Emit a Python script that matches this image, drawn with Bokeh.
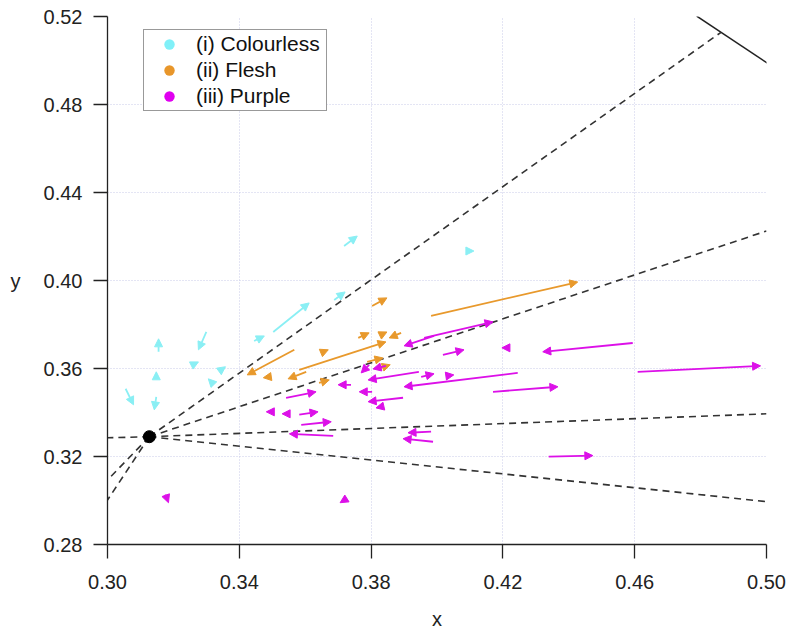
from bokeh.plotting import figure
from bokeh.models import (ColumnDataSource, Arrow, NormalHead, Legend, LegendItem,
                          FixedTicker, NumeralTickFormatter)
from bokeh.embed import file_html
from bokeh.resources import INLINE

# ---------------- data ----------------
white_x = [0.3127]
white_y = [0.3290]

# dashed lines from the white point
dash_end_x = [0.4861, 0.50, 0.50, 0.30, 0.50, 0.30, 0.30]
dash_end_y = [0.5127, 0.4225, 0.3394, 0.3285, 0.2995, 0.3093, 0.3002]

# spectral locus piece
locus_x = [0.4788, 0.5125]
locus_y = [0.5202, 0.4866]

# (i) Colourless arrows (tail -> head)
col_x0 = [0.3055, 0.3155, 0.3300, 0.3264, 0.3345, 0.3315, 0.3148, 0.3148, 0.3445, 0.3503, 0.3688, 0.3718, 0.4094]
col_y0 = [0.3508, 0.3676, 0.3766, 0.3621, 0.3594, 0.3539, 0.3567, 0.3471, 0.3725, 0.3766, 0.3911, 0.4157, 0.4134]
col_x1 = [0.3079, 0.3155, 0.3276, 0.3276, 0.3358, 0.3306, 0.3148, 0.3142, 0.3476, 0.3612, 0.3721, 0.3758, 0.4112]
col_y1 = [0.3435, 0.3735, 0.3685, 0.3630, 0.3608, 0.3553, 0.3585, 0.3412, 0.3748, 0.3898, 0.3948, 0.4202, 0.4134]

# (ii) Flesh arrows
fl_x0 = [0.3567, 0.3491, 0.3603, 0.3582, 0.3891, 0.3648, 0.3761, 0.3830, 0.3803, 0.3788, 0.3830, 0.3642, 0.3982]
fl_y0 = [0.3685, 0.3562, 0.3585, 0.3594, 0.3762, 0.3671, 0.3739, 0.3753, 0.3884, 0.3630, 0.3603, 0.3535, 0.3839]
fl_x1 = [0.3424, 0.3473, 0.3548, 0.3845, 0.3855, 0.3670, 0.3794, 0.3848, 0.3848, 0.3836, 0.3858, 0.3673, 0.4427]
fl_y1 = [0.3571, 0.3558, 0.3553, 0.3721, 0.3739, 0.3685, 0.3762, 0.3766, 0.3921, 0.3648, 0.3617, 0.3548, 0.3993]

# (iii) Purple arrows
pu_x0 = [0.3961, 0.3991, 0.4018, 0.4218, 0.4594, 0.4609, 0.4170, 0.4339, 0.4245, 0.3945,
         0.3952, 0.4033, 0.3739, 0.3803, 0.3897, 0.3830, 0.3794, 0.3845, 0.3982, 0.3988,
         0.3542, 0.3497, 0.3545, 0.3582, 0.3588, 0.3685, 0.3176, 0.3721]
pu_y0 = [0.3739, 0.3748, 0.3662, 0.3694, 0.3716, 0.3585, 0.3494, 0.3199, 0.3580, 0.3585,
         0.3562, 0.3567, 0.3526, 0.3494, 0.3467, 0.3426, 0.3617, 0.3612, 0.3313, 0.3267,
         0.3467, 0.3403, 0.3394, 0.3390, 0.3344, 0.3294, 0.3027, 0.3004]
pu_x1 = [0.4170, 0.3900, 0.4082, 0.4197, 0.4321, 0.4982, 0.4367, 0.4473, 0.3900, 0.3791,
         0.3991, 0.4051, 0.3700, 0.3764, 0.3791, 0.3815, 0.3770, 0.3806, 0.3912, 0.3897,
         0.3633, 0.3482, 0.3530, 0.3639, 0.3679, 0.3552, 0.3185, 0.3706]
pu_y1 = [0.3812, 0.3703, 0.3685, 0.3694, 0.3676, 0.3612, 0.3517, 0.3204, 0.3517, 0.3548,
         0.3576, 0.3571, 0.3526, 0.3494, 0.3449, 0.3421, 0.3580, 0.3598, 0.3308, 0.3281,
         0.3494, 0.3403, 0.3394, 0.3403, 0.3358, 0.3303, 0.2990, 0.2990]

x_ticks = [0.30, 0.34, 0.38, 0.42, 0.46, 0.50]
y_ticks = [0.28, 0.32, 0.36, 0.40, 0.44, 0.48, 0.52]

legend_labels = ["(i) Colourless", "(ii) Flesh", "(iii) Purple"]
CYAN = "#8AEFF4"
ORANGE = "#E8992C"
MAGENTA = "#DC10E8"
legend_colors = ["#80F0F8", "#E8962A", "#E000F0"]

FONT = "Liberation Sans"

# ---------------- figure ----------------
p = figure(width=790, height=632, x_range=(0.30, 0.50), y_range=(0.28, 0.52),
           output_backend="svg", toolbar_location=None,
           min_border_left=107, min_border_right=24, min_border_top=16, min_border_bottom=87)
p.outline_line_color = None
p.background_fill_color = "white"

for ax in (p.xaxis[0], p.yaxis[0]):
    ax.axis_line_color = "#222222"
    ax.axis_line_width = 1.3
    ax.major_tick_line_color = "#222222"
    ax.major_tick_line_width = 1.3
    ax.major_tick_out = 14
    ax.major_tick_in = 0
    ax.minor_tick_line_color = None
    ax.major_label_text_font = FONT
    ax.major_label_text_font_size = "20px"
    ax.major_label_text_color = "#222222"
    ax.axis_label_text_font = FONT
    ax.axis_label_text_font_size = "20px"
    ax.axis_label_text_font_style = "normal"
    ax.axis_label_text_color = "#222222"
    ax.formatter = NumeralTickFormatter(format="0.00")

p.xaxis.ticker = FixedTicker(ticks=x_ticks)
p.yaxis.ticker = FixedTicker(ticks=y_ticks)
p.xaxis.axis_label = "x"
p.yaxis.axis_label = "y"
p.xaxis.major_label_standoff = 16
p.xaxis.axis_label_standoff = 16
p.yaxis.major_label_standoff = 11
p.yaxis.axis_label_standoff = 20
p.yaxis.axis_label_orientation = "horizontal"

for g in (p.xgrid[0], p.ygrid[0]):
    g.grid_line_color = "#C8CBE8"
    g.grid_line_dash = "1 2"
    g.grid_line_width = 1

# dashed construction lines
n = len(dash_end_x)
p.segment(x0=white_x * n, y0=white_y * n, x1=dash_end_x, y1=dash_end_y,
          line_color="#333333", line_width=1.6, line_dash="7 5")

# spectral locus
p.line(locus_x, locus_y, line_color="#222222", line_width=1.5)


def add_arrows(x0, y0, x1, y1, color, lw, hs):
    src = ColumnDataSource(dict(x0=x0, y0=y0, x1=x1, y1=y1))
    head = NormalHead(size=hs, fill_color=color, line_color=color, line_width=1)
    p.add_layout(Arrow(end=head, source=src, x_start="x0", y_start="y0",
                       x_end="x1", y_end="y1", line_color=color, line_width=lw))


add_arrows(col_x0, col_y0, col_x1, col_y1, CYAN, 1.8, 8)
add_arrows(fl_x0, fl_y0, fl_x1, fl_y1, ORANGE, 1.8, 8)
add_arrows(pu_x0, pu_y0, pu_x1, pu_y1, MAGENTA, 1.8, 8)

# white point
p.scatter(white_x, white_y, marker="circle", size=12, fill_color="black", line_color="black")

# legend (proxy renderers sit on each group's first arrow tail, drawn at size 0)
tails = [(col_x0[:1], col_y0[:1]), (fl_x0[:1], fl_y0[:1]), (pu_x0[:1], pu_y0[:1])]
items = []
for lab, c, (tx, ty) in zip(legend_labels, legend_colors, tails):
    r = p.scatter(x=tx, y=ty, marker="circle", size=0, fill_color=c, line_color=c, line_width=0)
    items.append(LegendItem(label=lab, renderers=[r]))

legend = Legend(items=items, location=(36, 433), margin=0, padding=1, spacing=0,
                label_height=24, glyph_height=26, glyph_width=48, label_standoff=3,
                label_width=129, label_text_font=FONT, label_text_font_size="21px",
                label_text_color="#111111", border_line_color="#333333",
                border_line_width=1.5, background_fill_color="white", background_fill_alpha=1)
p.add_layout(legend)

open("out.html", "w").write(file_html(p, INLINE))
